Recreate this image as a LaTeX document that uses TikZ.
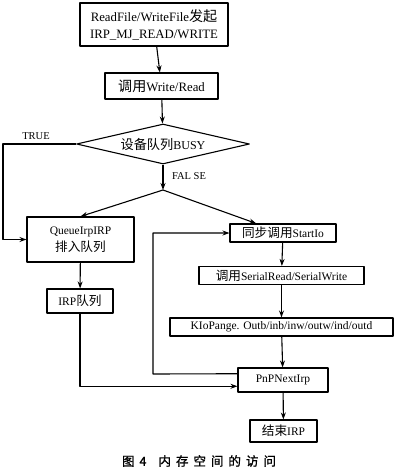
\documentclass[tikz,border=0pt]{standalone}
\usepackage{fontspec}
\setmainfont{Liberation Serif}
\newfontfamily\cjk[Scale=1.1]{Noto Sans CJK SC}
\newfontfamily\cjkcap[FakeBold=1.2,LetterSpace=40]{Noto Sans CJK SC}
\newcommand{\zh}[1]{{\cjk #1}}
\usetikzlibrary{arrows.meta, shapes.geometric, calc}

\begin{document}
\begin{tikzpicture}[x=1pt, y=-1pt, line join=round, line width=1.1pt,
  box/.style={draw, rectangle, inner sep=0pt, font=\fontsize{11.5}{17}\selectfont, align=center},
  bigbox/.style={box, font=\fontsize{12.8}{17}\selectfont},
  dec/.style={draw, diamond, aspect=4.3, inner sep=0pt, minimum width=173pt, minimum height=40pt, font=\fontsize{12}{14}\selectfont},
  lbl/.style={font=\fontsize{10.5}{12}\selectfont, inner sep=0pt},
  arr/.style={-{Stealth[length=7pt,width=5pt]}}]
\useasboundingbox (0,0) rectangle (400,469);
\node[bigbox, minimum width=148pt, minimum height=43pt] (start) at (154,24.5) {ReadFile/WriteFile\zh{发起}\\IRP\_MJ\_READ/WRITE};
\node[bigbox, minimum width=113pt, minimum height=26pt] (call) at (161.5,86) {\zh{调用}Write/Read};
\node[dec] (busy) at (163,144) {\zh{设备队列}BUSY};
\coordinate (fork) at (163,190);
\coordinate (tl) at (3,144);
\node[box, minimum width=107pt, minimum height=45pt] (queue) at (80.5,239.5) {QueueIrpIRP\\\zh{排入队列}};
\node[box, minimum width=66pt, minimum height=24pt] (irpq) at (80,301) {IRP\zh{队列}};
\node[box, minimum width=106pt, minimum height=18pt] (sio) at (283,233) {\zh{同步调用}StartIo};
\node[box, minimum width=165pt, minimum height=18pt] (rw) at (281.5,275.5) {\zh{调用}SerialRead/SerialWrite};
\node[box, minimum width=223pt, minimum height=18pt] (kio) at (281.5,327) {KIoPange. Outb/inb/inw/outw/ind/outd};
\node[box, minimum width=90pt, minimum height=24pt] (next) at (283,380) {PnPNextIrp};
\node[box, minimum width=67pt, minimum height=22pt] (fin) at (283.5,431) {\zh{结束}IRP};
\coordinate (nin) at ($(next.south west)!.25!(next.north west)$);
\coordinate (nout) at ($(next.south west)!.75!(next.north west)$);
\coordinate (lp) at (153,374);
% main flow
\draw[arr] (start) -- (call);
\draw[arr] (call) -- (busy);
\draw[arr] (busy) -- (fork);
\draw[arr] (fork) -- (queue.north);
\draw[arr] (fork) -- ($(sio.north west)!.25!(sio.north east)$);
\draw[arr] (busy.west) -- (tl) |- (queue.west);
\draw[arr] (queue) -- (irpq);
\draw[arr] (irpq.south) |- (nin);
\draw[arr] (sio) -- (rw);
\draw[arr] (rw) -- (kio);
\draw[arr] (kio) -- (next);
\draw[arr] (next) -- (fin);
\draw[arr] (nout) -- (lp) |- (sio.west);
% labels
\node[lbl] (t) at (36,136) {TRUE};
\node[lbl] (f) at (189,176) {FAL SE};
\node[inner sep=0pt] (cap) at (199,461) {{\cjkcap\fontsize{12.5}{14}\selectfont 图4}\hspace{12pt}{\cjkcap\fontsize{12.5}{14}\selectfont 内存空间的访问}};
\end{tikzpicture}
\end{document}
